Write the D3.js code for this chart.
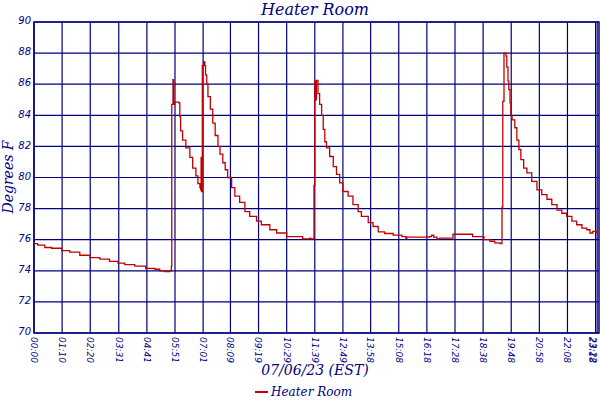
<!DOCTYPE html>
<html>
<head>
<meta charset="utf-8">
<script src="https://cdn.jsdelivr.net/npm/d3@7"></script>
<style>
  body { margin: 0; background: #fff; }
  svg { display: block; }
</style>
</head>
<body>
<script>
// minutes after midnight and the reading in degrees F
var minutes = [0, 9, 27, 44, 69, 89, 114, 139, 164, 188, 209, 226, 251, 278, 301, 313, 326, 338, 342,
  343, 346, 348, 350, 360, 363, 365, 370, 378, 388, 395, 403, 408, 413, 415, 416, 417, 419, 422, 425,
  427, 430, 433, 439, 445, 451, 458, 463, 470, 476, 482, 492, 500, 512, 525, 537, 554, 566, 587, 604,
  629, 669, 687, 689, 697, 699, 702, 703, 707, 711, 716, 720, 724, 728, 736, 745, 753, 761, 769, 782,
  794, 807, 815, 832, 844, 857, 873, 894, 916, 926, 928, 985, 990, 995, 1003, 1010, 1043, 1092, 1120,
  1135, 1147, 1160, 1165, 1167, 1170, 1175, 1177, 1180, 1182, 1185, 1187, 1190, 1197, 1202, 1207,
  1212, 1219, 1227, 1239, 1252, 1264, 1277, 1289, 1302, 1314, 1326, 1339, 1351, 1364, 1376, 1384,
  1391, 1399, 1406];
var tempF = [75.75, 75.65, 75.5, 75.45, 75.3, 75.2, 75.0, 74.85, 74.75, 74.6, 74.5, 74.4, 74.3, 74.15, 74.1, 74.0, 73.95, 74.0, 74.3,
  84.7, 86.3, 84.7, 84.85, 84.8, 83.9, 83.0, 82.4, 81.9, 81.3, 80.6, 80.1, 79.6, 79.35, 79.2, 81.3, 79.1, 87.2, 87.45, 87.2,
  86.6, 86.0, 85.2, 84.4, 83.5, 82.7, 82.0, 81.5, 80.95, 80.5, 80.0, 79.35, 78.8, 78.4, 77.8, 77.5, 77.2, 76.96, 76.64, 76.43,
  76.2, 76.05, 76.1, 76.05, 79.5, 86.2, 85.0, 86.25, 85.4, 84.7, 84.0, 83.1, 82.3, 81.9, 81.35, 80.7, 80.2, 79.65, 79.1, 78.8,
  78.25, 77.8, 77.5, 77.1, 76.85, 76.5, 76.4, 76.3, 76.2, 76.05, 76.17, 76.2, 76.3, 76.17, 76.05, 76.1, 76.35, 76.2, 76.0,
  75.9, 75.8, 75.75, 78.1, 84.9, 88.0, 87.8, 87.1, 86.2, 85.65, 84.8, 84.0, 83.7, 83.2, 82.4, 81.8,
  81.15, 80.6, 80.3, 79.75, 79.2, 78.9, 78.6, 78.25, 77.9, 77.7, 77.5, 77.2, 76.96, 76.75, 76.64, 76.43,
  76.54, 76.47, 76.47];

var timeTicks = ['00:00', '01:10', '02:20', '03:31', '04:41', '05:51', '07:01', '08:09', '09:19', '10:29',
  '11:39', '12:49', '13:58', '15:08', '16:18', '17:28', '18:38', '19:48', '20:58', '22:08', '23:18', '23:22'];
var tempTicks = [70, 72, 74, 76, 78, 80, 82, 84, 86, 88, 90];

var chartTitle = 'Heater Room';
var xTitle = '07/06/23 (EST)';
var yTitle = 'Degrees F';
var seriesName = 'Heater Room';

var size = { width: 600, height: 400 };
var margin = { top: 22, right: 1, bottom: 67, left: 34 };
var navy = '#000080';
var lineRed = '#c00000';

var toMin = function(s) {
  var p = s.split(':');
  return +p[0] * 60 + +p[1];
};

var svg = d3.select('body').append('svg')
  .attr('width', size.width)
  .attr('height', size.height);

var x = d3.scaleLinear()
  .domain([0, 1406.5])
  .range([margin.left, size.width - margin.right]);
var y = d3.scaleLinear()
  .domain([70, 90])
  .range([size.height - margin.bottom, margin.top]);

// grid
svg.append('g').selectAll('line').data(tempTicks)
  .enter().append('line')
  .attr('x1', x.range()[0]).attr('x2', x.range()[1])
  .attr('y1', function(d) { return y(d); })
  .attr('y2', function(d) { return y(d); })
  .attr('stroke', navy).attr('stroke-width', 1.2);

svg.append('g').selectAll('line').data(timeTicks)
  .enter().append('line')
  .attr('x1', function(d) { return x(toMin(d)); })
  .attr('x2', function(d) { return x(toMin(d)); })
  .attr('y1', y(90)).attr('y2', y(70))
  .attr('stroke', navy).attr('stroke-width', 1.2);

// frame
svg.append('rect')
  .attr('x', x.range()[0]).attr('y', y(90))
  .attr('width', x.range()[1] - x.range()[0])
  .attr('height', y(70) - y(90))
  .attr('fill', 'none').attr('stroke', navy).attr('stroke-width', 1.5);

// data line
var pts = minutes.map(function(m, i) { return { t: m, v: tempF[i] }; });
var line = d3.line()
  .x(function(d) { return x(d.t); })
  .y(function(d) { return y(d.v); })
  .curve(d3.curveStepAfter);

svg.append('path').datum(pts)
  .attr('d', line)
  .attr('fill', 'none')
  .attr('stroke', lineRed)
  .attr('stroke-width', 1.3);

// y labels
svg.append('g').selectAll('text').data(tempTicks)
  .enter().append('text')
  .attr('x', margin.left - 3)
  .attr('y', function(d) { return y(d) - 1; })
  .attr('dy', '0.32em')
  .attr('text-anchor', 'end')
  .style('font', 'italic 10px "DejaVu Sans"')
  .attr('fill', navy)
  .text(function(d) { return d; });

// x labels, turned; the last two sit against the right edge
svg.append('g').selectAll('text').data(timeTicks)
  .enter().append('text')
  .attr('transform', function(d) {
    return 'translate(' + x(toMin(d)) + ',' + (y(70) + 4) + ') rotate(90)';
  })
  .attr('dy', function(d, i) { return i >= timeTicks.length - 2 ? '0.75em' : '0.35em'; })
  .attr('text-anchor', 'start')
  .style('font', 'italic 9px "DejaVu Sans"')
  .attr('fill', navy)
  .text(function(d) { return d; });

// titles
svg.append('text')
  .attr('x', 315).attr('y', 15)
  .attr('text-anchor', 'middle')
  .style('font', 'italic 16px "DejaVu Serif"')
  .attr('fill', navy)
  .text(chartTitle);

svg.append('text')
  .attr('x', 315).attr('y', 375)
  .attr('text-anchor', 'middle')
  .style('font', 'italic 14px "DejaVu Serif"')
  .attr('fill', navy)
  .text(xTitle);

svg.append('text')
  .attr('transform', 'translate(13,177) rotate(-90)')
  .attr('text-anchor', 'middle')
  .style('font', 'italic 14px "DejaVu Serif"')
  .attr('fill', navy)
  .text(yTitle);

// legend
svg.append('line')
  .attr('x1', 255).attr('x2', 268)
  .attr('y1', 392).attr('y2', 392)
  .attr('stroke', lineRed).attr('stroke-width', 2);
svg.append('text')
  .attr('x', 271).attr('y', 396)
  .style('font', 'italic 12px "DejaVu Serif"')
  .attr('fill', navy)
  .text(seriesName);
</script>
</body>
</html>
